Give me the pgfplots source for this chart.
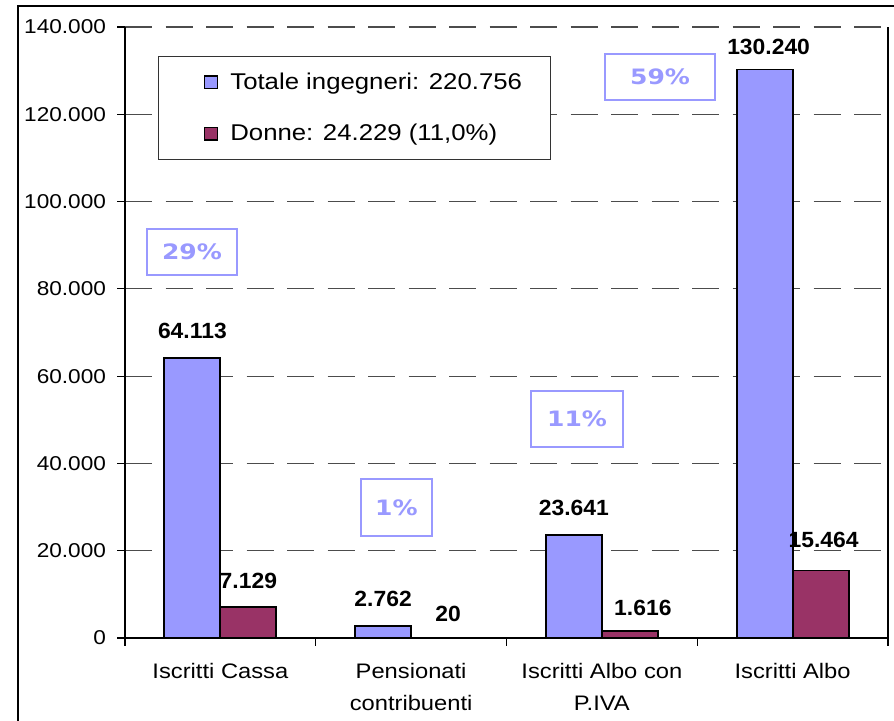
\documentclass[border=0pt]{standalone}
\usepackage{pgfplots}
\usepackage{pgfplotstable}
\pgfplotsset{compat=1.18}
\usepackage{fontspec}
\setmainfont{Liberation Sans}[FakeStretch=1.13]
\newfontfamily\lblfont{Liberation Sans}[FakeStretch=1.04]
\newfontfamily\pctfont{DejaVu Sans}[FakeStretch=1.18]
\definecolor{xlblue}{HTML}{9999FF}
\definecolor{xlred}{HTML}{993366}

\pgfplotstableread{
x y dx dy lab
0 64113 0 9.5 64.113
1 2762 0 9 2.762
2 23641 0 9 23.641
3 130240 2 7 130.240
}\tot
\pgfplotstableread{
x y dx dy lab
0 7129 0 8.5 7.129
1 20 4.5 7.5 20
2 1616 6.5 7 1.616
3 15464 1.5 11 15.464
}\donne

\pgfplotsset{lblstyle/.style={
  point meta=explicit symbolic,
  nodes near coords,
  visualization depends on={\thisrow{dx} \as \ddx},
  visualization depends on={\thisrow{dy} \as \ddy},
  every node near coord/.append style={anchor=south, inner sep=0pt,
     xshift=\ddx, yshift=\ddy, font=\lblfont\bfseries\fontsize{11}{13}\selectfont, text=black},
}}

\begin{document}
\begin{tikzpicture}
\draw[line width=1pt] (9pt,0pt) -- (9pt,357.5pt) -- (447pt,357.5pt);
\begin{axis}[
  at={(62.5pt,41.5pt)}, anchor=south west,
  scale only axis, width=381.5pt, height=305.5pt,
  xmin=-0.5, xmax=3.5, ymin=0, ymax=140000,
  axis x line*=bottom, axis y line*=left,
  axis line style={black, line width=0.6pt, -},
  ytick={0,20000,...,140000},
  scaled y ticks=false,
  /pgf/number format/.cd, fixed, 1000 sep={.}, assume math mode=true,
  /pgfplots/.cd,
  yticklabel style={font=\fontsize{10}{12}\selectfont, xshift=-2pt},
  ytick style={black, line width=0.6pt},
  tick align=outside, major tick length=4pt,
  xtick={0,1,2,3},
  xticklabels={Iscritti Cassa, Pensionati\\contribuenti, Iscritti Albo con\\P.IVA, Iscritti Albo},
  xticklabel style={font=\fontsize{10.5}{16}\selectfont, align=center, yshift=-5pt},
  major x tick style={draw=none},
  minor xtick={-0.5,0.5,1.5,2.5,3.5},
  minor x tick style={black, line width=0.6pt},
  minor tick length=4pt,
  ymajorgrids,
  major grid style={dash pattern=on 13.5pt off 6.75pt, line width=0.55pt, color=black!70},
  clip=false,
  ybar, bar width=0.2936,
  legend style={at={(0.0433,0.9525)}, anchor=north west, draw=black!80, line width=0.5pt,
    inner xsep=14pt, inner ysep=8pt, row sep=16pt,
    font=\fontsize{11.4}{13}\selectfont, nodes={inner sep=0pt}},
  legend cell align=left,
  legend image code/.code={\path[draw=none,fill=none] (-9pt,0pt) -- (12.9pt,0pt);
     \draw[#1,line width=0.8pt] (0pt,-3.2pt) rectangle (6.4pt,3.2pt);},
]
\addplot[fill=xlblue, draw=black, line width=0.9pt, bar shift=-0.1468, lblstyle]
  table[x=x, y=y, meta=lab] {\tot};
\addlegendentry{Totale ingegneri: 220.756}
\addplot[fill=xlred, draw=black, line width=0.9pt, bar shift=0.1468, lblstyle]
  table[x=x, y=y, meta=lab] {\donne};
\addlegendentry{Donne: 24.229 (11,0\%)}

\draw[black, line width=0.6pt] (rel axis cs:1,0) -- (rel axis cs:1,1);

\begin{scope}[every node/.style={draw=xlblue, line width=0.7pt, text=xlblue,
   font=\pctfont\bfseries\fontsize{10.6}{12}\selectfont, inner sep=0pt}]
\node[minimum width=45pt, minimum height=23pt] at (axis cs:-0.149,88445) {29\%};
\node[minimum width=55pt, minimum height=23pt] at (axis cs:2.305,128543) {59\%};
\node[minimum width=46pt, minimum height=28pt] at (axis cs:1.870,50180) {11\%};
\node[minimum width=35.5pt, minimum height=28.5pt] at (axis cs:0.923,29901) {1\%};
\end{scope}
\end{axis}
\pgfresetboundingbox
\useasboundingbox (0pt,0pt) rectangle (447pt,360.5pt);
\end{tikzpicture}
\end{document}
